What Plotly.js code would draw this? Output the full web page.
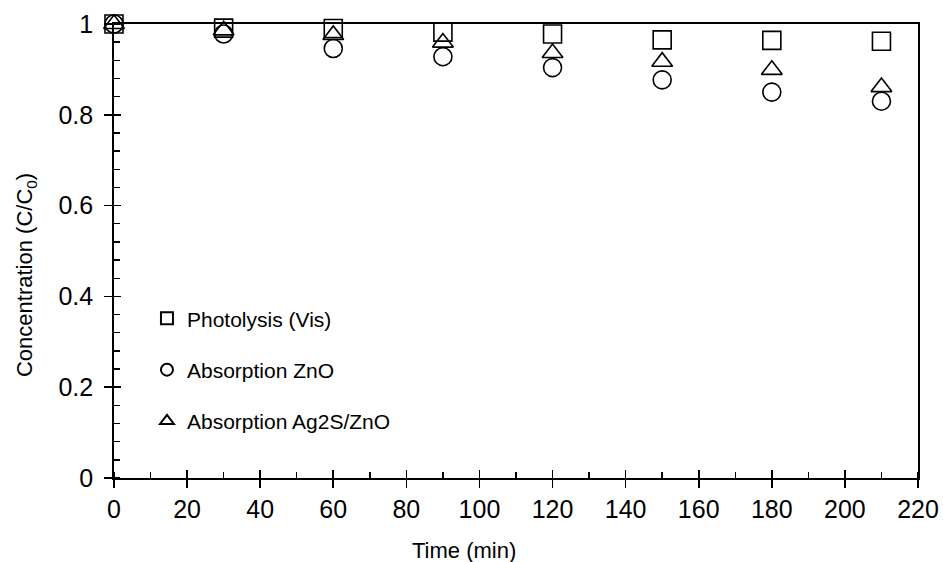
<!DOCTYPE html>
<html>
<head>
<meta charset="utf-8">
<script src="https://cdn.plot.ly/plotly-3.0.1.min.js"></script>
<style>html,body{margin:0;padding:0;background:#fff;}#chart{width:943px;height:562px;}</style>
</head>
<body>
<div id="chart"></div>
<script>
const timeMin = [0, 30, 60, 90, 120, 150, 180, 210];
const photolysis = [1.0, 0.991, 0.990, 0.982, 0.978, 0.965, 0.964, 0.962];
const absorptionZnO = [1.0, 0.978, 0.946, 0.928, 0.904, 0.877, 0.850, 0.830];
const absorptionAg2SZnO = [1.0, 0.986, 0.976, 0.959, 0.936, 0.917, 0.899, 0.861];
const seriesNames = ['Photolysis (Vis)', 'Absorption ZnO', 'Absorption Ag2S/ZnO'];
const xTicks = [0, 20, 40, 60, 80, 100, 120, 140, 160, 180, 200, 220];
const yTicks = [0, 0.2, 0.4, 0.6, 0.8, 1];
const xTitle = 'Time (min)';
const yTitle = 'Concentration (C/C<sub>0</sub>)';

const font = 'Liberation Sans, Arial, sans-serif';
function tr(y, name, symbol, i) {
  return {
    x: timeMin, y: y, name: name, type: 'scatter', mode: 'markers',
    cliponaxis: false, legendgroup: 'g' + i,
    marker: {symbol: symbol, size: 18, color: '#000', line: {color: '#000', width: 1.6}}
  };
}
const data = [
  tr(photolysis, seriesNames[0], 'square-open', 0),
  tr(absorptionZnO, seriesNames[1], 'circle-open', 1),
  tr(absorptionAg2SZnO, seriesNames[2], 'triangle-up-open', 2)
];
const layout = {
  width: 943, height: 562,
  margin: {l: 114, r: 25, t: 24, b: 84},
  paper_bgcolor: '#fff', plot_bgcolor: '#fff',
  font: {family: font, color: '#000'},
  showlegend: true,
  legend: {x: 0.041, y: 0.396, xanchor: 'left', yanchor: 'top', bgcolor: 'rgba(0,0,0,0)',
           font: {size: 21, family: font}, itemsizing: 'constant', itemwidth: 30, tracegroupgap: 21},
  xaxis: {
    range: [0, 220], tickvals: xTicks, ticks: 'outside', ticklen: 8, tickwidth: 1.6, tickcolor: '#000',
    minor: {dtick: 10, ticks: 'inside', ticklen: 6, tickwidth: 1.4, tickcolor: '#000', showgrid: false},
    showline: true, linecolor: '#000', linewidth: 1.8, mirror: true, showgrid: false, zeroline: false,
    ticklabelstandoff: 0,
    tickfont: {size: 25, family: font}
  },
  yaxis: {
    range: [0, 1], tickvals: yTicks, ticks: 'outside', ticklen: 8, tickwidth: 1.6, tickcolor: '#000',
    minor: {dtick: 0.04, ticks: 'inside', ticklen: 6, tickwidth: 1.4, tickcolor: '#000', showgrid: false},
    showline: true, linecolor: '#000', linewidth: 1.8, mirror: true, showgrid: false, zeroline: false,
    ticklabelstandoff: 6,
    tickfont: {size: 25, family: font}
  },
  xaxis2: {overlaying: 'x', matches: 'x', range: [0, 220], tickvals: xTicks, ticks: 'inside', ticklen: 8, tickwidth: 1.6,
           tickcolor: '#000', showticklabels: false, showline: false, showgrid: false, zeroline: false, side: 'bottom'},
  yaxis2: {overlaying: 'y', matches: 'y', range: [0, 1], tickvals: yTicks, ticks: 'inside', ticklen: 7, tickwidth: 1.6,
           tickcolor: '#000', showticklabels: false, showline: false, showgrid: false, zeroline: false, side: 'left'},
  annotations: [
    {text: xTitle, xref: 'paper', yref: 'paper', x: 0.435, y: -0.1586, xanchor: 'center', yanchor: 'middle',
     showarrow: false, font: {size: 22, family: font, color: '#000'}},
    {text: yTitle, xref: 'paper', yref: 'paper', x: -0.1095, y: 0.447, xanchor: 'center', yanchor: 'middle',
     textangle: -90, showarrow: false, font: {size: 22, family: font, color: '#000'}}
  ]
};
data.push({x: [], y: [], xaxis: 'x2', yaxis: 'y2', showlegend: false, type: 'scatter', hoverinfo: 'skip'});
Plotly.newPlot('chart', data, layout, {displayModeBar: false, staticPlot: true});
</script>
</body>
</html>
